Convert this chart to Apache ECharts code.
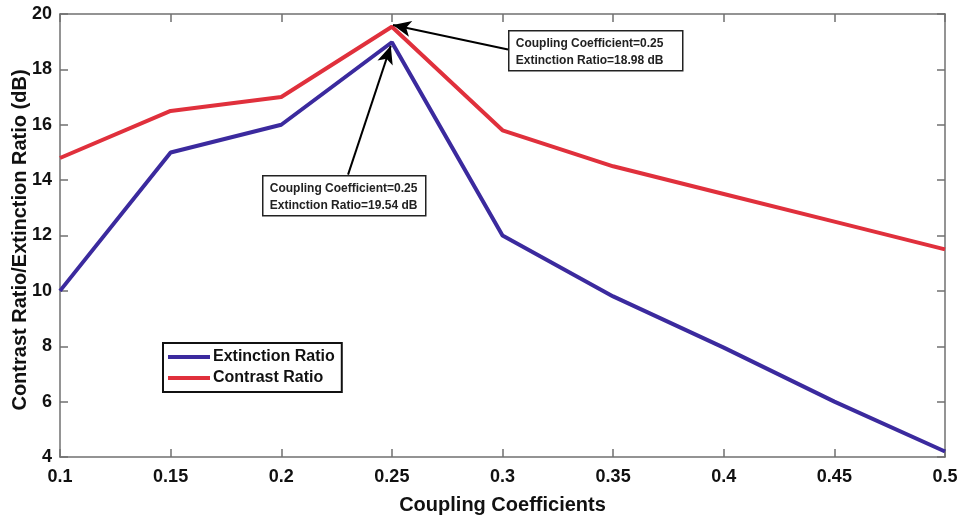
<!DOCTYPE html>
<html><head><meta charset="utf-8">
<script src="https://cdn.jsdelivr.net/npm/echarts@6/dist/echarts.min.js"></script>
<style>html,body{margin:0;padding:0;background:#fff}#c{width:959px;height:517px}</style>
</head><body><div id="c"></div>
<script>
const xValues = [0.1, 0.15, 0.2, 0.25, 0.3, 0.35, 0.4, 0.45, 0.5];
const extinctionRatio = [10, 15, 16, 18.98, 12, 9.8, 7.95, 6.0, 4.2];
const contrastRatio = [14.8, 16.5, 17, 19.54, 15.8, 14.5, 13.5, 12.5, 11.5];
const note1 = ['Coupling Coefficient=0.25', 'Extinction Ratio=18.98 dB'];
const note2 = ['Coupling Coefficient=0.25', 'Extinction Ratio=19.54 dB'];
const yTitle = 'Contrast Ratio/Extinction Ratio (dB)';
const xTitle = 'Coupling Coefficients';

const FONT = '"Liberation Sans", Arial, sans-serif';
const axisCol = '#707070';
const chart = echarts.init(document.getElementById('c'));
const pair = (xs, ys) => xs.map((x, i) => [x, ys[i]]);
const fmt = v => String(+v.toFixed(2));

const axisCommon = {
  axisLine: {show: true, lineStyle: {color: axisCol, width: 1.5}},
  axisTick: {show: true, inside: true, length: 8, lineStyle: {color: axisCol, width: 1.5}},
  splitLine: {show: false}
};

function box(x, y, w, h, lines) {
  return {
    type: 'group', left: x, top: y, z: 100,
    children: [
      {type: 'rect', shape: {x: 0, y: 0, width: w, height: h},
       style: {fill: '#fff', stroke: '#222', lineWidth: 1.5}},
      {type: 'text', left: 7, top: 4,
       style: {text: lines.join('\n'), font: 'bold 12px ' + FONT, fill: '#222', lineHeight: 17}}
    ]
  };
}

chart.setOption({
  animation: false,
  grid: {left: 60, right: 14, top: 14, bottom: 60, containLabel: false, outerBoundsMode: 'none'},
  xAxis: [
    Object.assign({type: 'value', min: 0.1, max: 0.5, interval: 0.05, position: 'bottom',
      name: xTitle, nameLocation: 'middle', nameGap: 38,
      nameTextStyle: {fontFamily: FONT, fontWeight: 'bold', fontSize: 20, color: '#111'},
      axisLabel: {formatter: fmt, fontFamily: FONT, fontWeight: 'bold', fontSize: 18, color: '#111', margin: 11}}, axisCommon),
    Object.assign({type: 'value', min: 0.1, max: 0.5, interval: 0.05, position: 'top',
      axisLabel: {show: false}}, axisCommon)
  ],
  yAxis: [
    Object.assign({type: 'value', min: 4, max: 20, interval: 2, position: 'left',
      axisLabel: {fontFamily: FONT, fontWeight: 'bold', fontSize: 18, color: '#111', margin: 8}}, axisCommon),
    Object.assign({type: 'value', min: 4, max: 20, interval: 2, position: 'right',
      axisLabel: {show: false}}, axisCommon)
  ],
  legend: {
    left: 163, top: 343, orient: 'vertical',
    padding: [6, 7, 6, 5], itemGap: 5,
    borderColor: '#111', borderWidth: 2, backgroundColor: '#fff',
    itemWidth: 42, itemHeight: 4, icon: 'rect',
    textStyle: {fontFamily: FONT, fontWeight: 'bold', fontSize: 16, color: '#111', padding: [0, 0, 0, -2]},
    data: ['Extinction Ratio', 'Contrast Ratio']
  },
  series: [
    {name: 'Extinction Ratio', type: 'line', data: pair(xValues, extinctionRatio),
     showSymbol: false, color: '#3b2a9e', lineStyle: {width: 4, color: '#3b2a9e'}, z: 3,
     markLine: {silent: true, symbol: ['none', 'arrow'], symbolSize: [12, 18],
       label: {show: false}, lineStyle: {color: '#000', width: 2, type: 'solid'},
       data: [[{coord: [0.2302, 14.2]}, {coord: [0.2495, 18.85]}]]}},
    {name: 'Contrast Ratio', type: 'line', data: pair(xValues, contrastRatio),
     showSymbol: false, color: '#e0303c', lineStyle: {width: 4, color: '#e0303c'}, z: 2,
     markLine: {silent: true, symbol: ['none', 'arrow'], symbolSize: [12, 18],
       label: {show: false}, lineStyle: {color: '#000', width: 2, type: 'solid'},
       data: [[{coord: [0.3025, 18.72]}, {coord: [0.2505, 19.6]}]]}}
  ],
  graphic: [
    box(508, 30, 174, 40, note1),
    box(262, 175, 163, 40, note2),
    {type: 'text', x: 20, y: 240, rotation: Math.PI / 2,
     style: {text: yTitle, font: 'bold 20px ' + FONT, fill: '#111', align: 'center', verticalAlign: 'middle'}}
  ]
});
</script></body></html>
